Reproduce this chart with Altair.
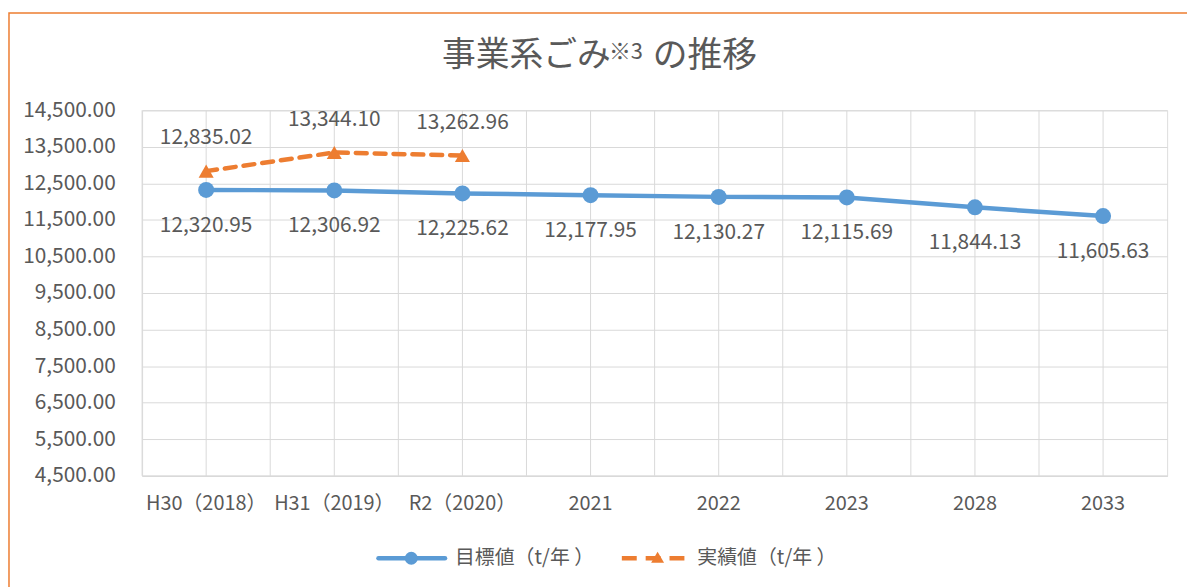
import altair as alt
import pandas as pd

cats = ["H30（2018）", "H31（2019）", "R2（2020）", "2021", "2022", "2023", "2028", "2033"]
target = [12320.95, 12306.92, 12225.62, 12177.95, 12130.27, 12115.69, 11844.13, 11605.63]
actual_cats = ["H30（2018）", "H31（2019）", "R2（2020）"]
actual = [12835.02, 13344.10, 13262.96]
series = ["目標値（t/年 ）", "実績値（t/年 ）"]
title_parts = ["事業系ごみ", "※3", "の推移"]
y_ticks = [4500, 5500, 6500, 7500, 8500, 9500, 10500, 11500, 12500, 13500, 14500]

BLUE = "#5B9BD5"
ORANGE = "#ED7D31"
TXT = "#595959"
GRID = "#D9D9D9"
FONT = "Noto Sans CJK JP"

df_t = pd.DataFrame({"cat": cats, "value": target, "series": series[0]})
df_a = pd.DataFrame({"cat": actual_cats, "value": actual, "series": series[1]})
df_c = pd.DataFrame({"cat": cats})
one = pd.DataFrame({"k": [0]})

xscale = alt.Scale(type="band", domain=cats, paddingInner=0, paddingOuter=0)
yscale = alt.Scale(domain=[4500, 14500], nice=False, zero=False)

AX = alt.Axis(title=None, labelAngle=0, labelAlign="center", labelBaseline="top",
              bandPosition=0.5, grid=True,
              gridColor=GRID, ticks=False, domainColor=GRID, domainWidth=1.5,
              labelColor=TXT, labelFont=FONT, labelFontSize=20, labelPadding=18)
X = alt.X("cat:N", scale=xscale, bandPosition=0.5, axis=AX)
Y = alt.Y("value:Q", scale=yscale,
          axis=alt.Axis(title=None, values=y_ticks, format=",.2f", grid=True, gridColor=GRID,
                        ticks=False, domain=False, labelColor=TXT, labelFont=FONT,
                        labelFontSize=21, labelPadding=27))

bounds = alt.Chart(df_c).mark_rule(color=GRID, strokeWidth=1).encode(
    x=alt.X("cat:N", scale=xscale, bandPosition=0, axis=AX)
)

line_t = alt.Chart(df_t).mark_line(color=BLUE, strokeWidth=4.5).encode(x=X, y=Y)
pts_t = alt.Chart(df_t).mark_point(filled=True, color=BLUE, opacity=1, size=260).encode(x=X, y=Y)
lab_t = alt.Chart(df_t).mark_text(dy=36, color=TXT, font=FONT, fontSize=21).encode(
    x=X, y=Y, text=alt.Text("value:Q", format=",.2f"))

line_a = alt.Chart(df_a).mark_line(color=ORANGE, strokeWidth=4.5, strokeDash=[11, 8],
                                   strokeCap="round").encode(x=X, y=Y)
pts_a = alt.Chart(df_a).mark_point(filled=True, color=ORANGE, opacity=1, size=230,
                                   shape="triangle-up").encode(x=X, y=Y)
lab_a = alt.Chart(df_a).mark_text(dy=-33, color=TXT, font=FONT, fontSize=21).encode(
    x=X, y=Y, text=alt.Text("value:Q", format=",.2f"))

# title
base1 = alt.Chart(one)
t1 = base1.mark_text(align="left", baseline="middle", font=FONT, fontSize=34, color=TXT).encode(
    x=alt.value(302), y=alt.value(-55), text=alt.value(title_parts[0]))
t2 = base1.mark_text(align="left", baseline="middle", font=FONT, fontSize=22, color=TXT).encode(
    x=alt.value(470), y=alt.value(-59), text=alt.value(title_parts[1]))
t3 = base1.mark_text(align="left", baseline="middle", font=FONT, fontSize=35, color=TXT).encode(
    x=alt.value(514), y=alt.value(-55), text=alt.value(title_parts[2]))

# legend
LY = 451
lg1 = base1.mark_rule(color=BLUE, strokeWidth=4.5, strokeCap="round").encode(
    x=alt.value(238), x2=alt.value(305), y=alt.value(LY))
lg1p = base1.mark_point(filled=True, color=BLUE, opacity=1, size=170).encode(
    x=alt.value(271), y=alt.value(LY))
lg1t = base1.mark_text(align="left", baseline="middle", font=FONT, fontSize=20, color=TXT).encode(
    x=alt.value(315), y=alt.value(LY), text=alt.value(series[0]))
lg2 = base1.mark_rule(color=ORANGE, strokeWidth=4.5, strokeDash=[15, 9], strokeCap="butt").encode(
    x=alt.value(483), x2=alt.value(546), y=alt.value(LY))
lg2p = base1.mark_point(filled=True, color=ORANGE, opacity=1, size=170, shape="triangle-up").encode(
    x=alt.value(519), y=alt.value(LY - 1))
lg2t = base1.mark_text(align="left", baseline="middle", font=FONT, fontSize=20, color=TXT).encode(
    x=alt.value(559), y=alt.value(LY), text=alt.value(series[1]))

# outer border
border = base1.mark_rect(filled=False, stroke=ORANGE, strokeWidth=1.5).encode(
    x=alt.value(-134), x2=alt.value(1080), y=alt.value(-98), y2=alt.value(520))

chart = alt.layer(
    bounds, line_t, pts_t, lab_t, line_a, pts_a, lab_a,
    t1, t2, t3, lg1, lg1p, lg1t, lg2, lg2p, lg2t, border
).properties(
    width=1032, height=368,
    autosize=alt.AutoSizeParams(type="none"),
    padding={"left": 135, "top": 101, "right": 20, "bottom": 110},
).configure_view(stroke=GRID, strokeWidth=1).configure(background="white")

chart.save("out.html", embed_options={"renderer": "svg", "actions": False})
